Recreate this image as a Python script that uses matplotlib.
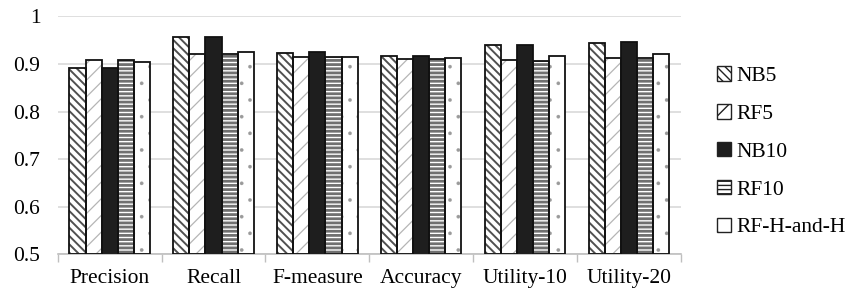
import matplotlib
matplotlib.use("Agg")
import matplotlib.pyplot as plt
from matplotlib.patches import Patch
import numpy as np

categories = ["Precision", "Recall", "F-measure", "Accuracy", "Utility-10", "Utility-20"]
series_names = ["NB5", "RF5", "NB10", "RF10", "RF-H-and-H"]
nb5 = [0.892, 0.956, 0.924, 0.917, 0.940, 0.945]
rf5 = [0.908, 0.921, 0.914, 0.911, 0.908, 0.912]
nb10 = [0.891, 0.957, 0.925, 0.917, 0.941, 0.947]
rf10 = [0.908, 0.922, 0.914, 0.911, 0.907, 0.913]
rfhh = [0.905, 0.925, 0.914, 0.913, 0.916, 0.921]
y_ticks = [0.5, 0.6, 0.7, 0.8, 0.9, 1.0]
y_tick_labels = ["0.5", "0.6", "0.7", "0.8", "0.9", "1"]

plt.rcParams['font.family'] = ['Liberation Serif', 'DejaVu Serif']

fig = plt.figure(figsize=(8.49, 2.92), dpi=100)
ax = fig.add_axes([0.068, 0.130, 0.734, 0.8135])

styles = [
    dict(face="white", hatch="\\\\\\\\", hcol="#505050", hlw=1.4),
    dict(face="white", hatch="//", hcol="#b5b5b5", hlw=0.9),
    dict(face="#1e1e1e", hatch=None, hcol="#1e1e1e", hlw=1.0),
    dict(face="white", hatch="----", hcol="#707070", hlw=2.0),
    dict(face="white", hatch=".", hcol="#9a9a9a", hlw=0.2),
]
all_vals = [nb5, rf5, nb10, rf10, rfhh]
x = np.arange(len(categories))
w = 0.155
handles = []
for i, (vals, st, name) in enumerate(zip(all_vals, styles, series_names)):
    pos = x + (i - 2) * w
    h = np.array(vals) - 0.5
    with plt.rc_context({'hatch.linewidth': st["hlw"]}):
        ax.bar(pos, h, w, bottom=0.5, color=st["face"], hatch=st["hatch"],
               edgecolor=st["hcol"], linewidth=0, zorder=2)
        handles.append(Patch(facecolor=st["face"], hatch=st["hatch"], edgecolor="#222222",
                             linewidth=1.0, label=name))
    ax.bar(pos, h, w, bottom=0.5, facecolor="none", edgecolor="#111111",
           linewidth=1.3, zorder=3)

ax.set_xlim(-0.5, len(categories) - 0.5)
ax.set_ylim(0.5, 1.0)
ax.set_yticks(y_ticks)
ax.set_yticklabels(y_tick_labels)
ax.set_xticks(x)
ax.set_xticklabels(categories)
ax.set_xticks(np.arange(len(categories) + 1) - 0.5, minor=True)
ax.tick_params(axis='x', which='major', length=0, pad=11, labelsize=15.5)
ax.tick_params(axis='x', which='minor', length=6, color="#bfbfbf", width=1)
ax.tick_params(axis='y', length=0, pad=12.5, labelsize=15.5)
ax.yaxis.grid(True, color="#d9d9d9", linewidth=1.2, zorder=0)
ax.set_axisbelow(True)
for s in ["left", "right", "top"]:
    ax.spines[s].set_visible(False)
ax.spines["bottom"].set_color("#bfbfbf")
ax.spines["bottom"].set_linewidth(1.2)

fig.legend(handles=handles, loc="center left", bbox_to_anchor=(0.8445, 0.480),
           frameon=False, fontsize=15.5, handlelength=0.65, handleheight=0.65,
           handletextpad=0.25, labelspacing=0.84, borderaxespad=0, borderpad=0)

fig.savefig("out.png", dpi=100)
